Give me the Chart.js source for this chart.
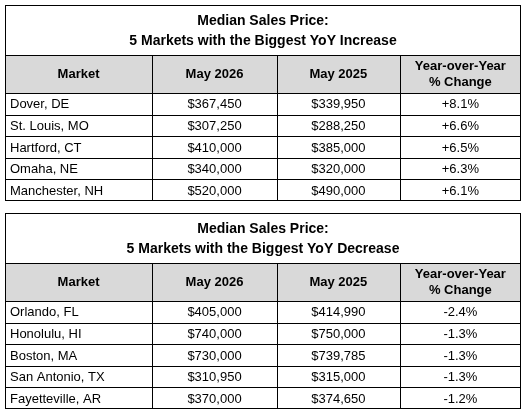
<!DOCTYPE html>
<html>
<head>
<meta charset="utf-8">
<script src="https://cdn.jsdelivr.net/npm/chart.js@4"></script>
<style>
  body { margin: 0; background: #fff; }
  #wrap { width: 527px; height: 417px; }
</style>
</head>
<body>
<div id="wrap"><canvas id="tables"></canvas></div>
<script>
// Table data
const headers = ['Market', 'May 2026', 'May 2025', 'Year-over-Year\n% Change'];

const upTitle = ['Median Sales Price:', '5 Markets with the Biggest YoY Increase'];
const upMarkets = ['Dover, DE', 'St. Louis, MO', 'Hartford, CT', 'Omaha, NE', 'Manchester, NH'];
const upPrice2026 = ['$367,450', '$307,250', '$410,000', '$340,000', '$520,000'];
const upPrice2025 = ['$339,950', '$288,250', '$385,000', '$320,000', '$490,000'];
const upChange = ['+8.1%', '+6.6%', '+6.5%', '+6.3%', '+6.1%'];

const downTitle = ['Median Sales Price:', '5 Markets with the Biggest YoY Decrease'];
const downMarkets = ['Orlando, FL', 'Honolulu, HI', 'Boston, MA', 'San Antonio, TX', 'Fayetteville, AR'];
const downPrice2026 = ['$405,000', '$740,000', '$730,000', '$310,950', '$370,000'];
const downPrice2025 = ['$414,990', '$750,000', '$739,785', '$315,000', '$374,650'];
const downChange = ['-2.4%', '-1.3%', '-1.3%', '-1.3%', '-1.2%'];

const tables = [
  { title: upTitle, cols: [upMarkets, upPrice2026, upPrice2025, upChange] },
  { title: downTitle, cols: [downMarkets, downPrice2026, downPrice2025, downChange] }
];

const FONT = '"Liberation Sans", Arial, sans-serif';
const colFrac = [0.285, 0.242, 0.238, 0.235];

function drawTable(ctx, t, left, top, width) {
  const titleH = 50, headH = 38, rowH = 21.6;
  const n = t.cols[0].length;
  const bottom = top + titleH + headH + rowH * n;
  const xs = [left];
  colFrac.forEach(f => xs.push(xs[xs.length - 1] + f * width));
  xs[xs.length - 1] = left + width;

  ctx.fillStyle = '#d9d9d9';
  ctx.fillRect(left, top + titleH, width, headH);

  ctx.strokeStyle = '#000';
  ctx.lineWidth = 1;
  ctx.strokeRect(left + 0.5, top + 0.5, width - 1, bottom - top - 1);
  ctx.beginPath();
  const hy = [top + titleH, top + titleH + headH];
  for (let i = 1; i < n; i++) hy.push(top + titleH + headH + rowH * i);
  hy.forEach(y => { ctx.moveTo(left, Math.round(y) + 0.5); ctx.lineTo(left + width, Math.round(y) + 0.5); });
  for (let i = 1; i < xs.length - 1; i++) {
    ctx.moveTo(Math.round(xs[i]) + 0.5, top + titleH);
    ctx.lineTo(Math.round(xs[i]) + 0.5, bottom);
  }
  ctx.stroke();

  ctx.fillStyle = '#000';
  ctx.textBaseline = 'middle';
  ctx.textAlign = 'center';
  ctx.font = 'bold 14px ' + FONT;
  ctx.fillText(t.title[0], left + width / 2, top + 16);
  ctx.fillText(t.title[1], left + width / 2, top + 36);

  ctx.font = 'bold 13px ' + FONT;
  headers.forEach((h, c) => {
    const lines = h.split('\n');
    const cx = (xs[c] + xs[c + 1]) / 2;
    const cy = top + titleH + headH / 2;
    lines.forEach((ln, k) => ctx.fillText(ln, cx, cy + (k - (lines.length - 1) / 2) * 16));
  });

  ctx.font = '13px ' + FONT;
  for (let r = 0; r < n; r++) {
    const cy = top + titleH + headH + rowH * (r + 0.5) + 1;
    t.cols.forEach((col, c) => {
      if (c === 0) {
        ctx.textAlign = 'left';
        ctx.fillText(col[r], xs[0] + 5, cy);
      } else {
        ctx.textAlign = 'center';
        ctx.fillText(col[r], (xs[c] + xs[c + 1]) / 2, cy);
      }
    });
  }
}

const tablePlugin = {
  id: 'tablePlugin',
  afterDraw(chart) {
    const ctx = chart.ctx;
    ctx.save();
    drawTable(ctx, tables[0], 5, 5, 516);
    drawTable(ctx, tables[1], 5, 213, 516);
    ctx.restore();
  }
};

new Chart(document.getElementById('tables'), {
  type: 'bar',
  data: { labels: [], datasets: [] },
  options: {
    responsive: true,
    maintainAspectRatio: false,
    animation: false,
    plugins: { legend: { display: false }, tooltip: { enabled: false } },
    scales: { x: { display: false }, y: { display: false } }
  },
  plugins: [tablePlugin]
});
</script>
</body>
</html>
